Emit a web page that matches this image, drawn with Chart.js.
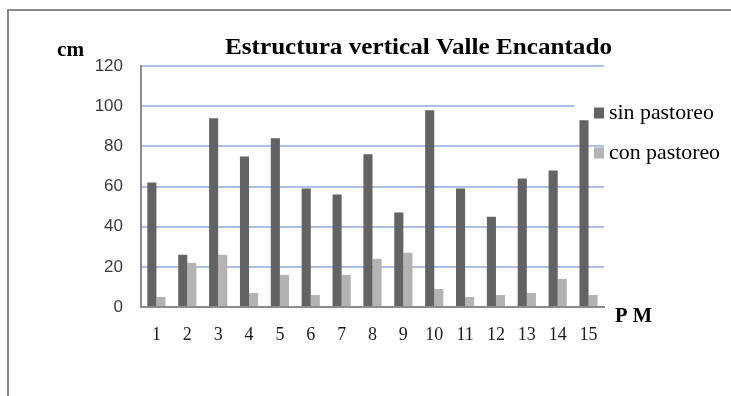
<!DOCTYPE html>
<html>
<head>
<meta charset="utf-8">
<script src="https://cdn.jsdelivr.net/npm/chart.js@4.4.1/dist/chart.umd.min.js"></script>
<style>
  html, body { margin: 0; padding: 0; background: #ffffff; }
  #wrap { width: 731px; height: 396px; }
</style>
</head>
<body>
<div id="wrap"><canvas id="c" width="731" height="396"></canvas></div>
<script>
// Plot points (PM) and canopy height in cm
const puntos = ['1','2','3','4','5','6','7','8','9','10','11','12','13','14','15'];
const sinPastoreo = [62, 26, 94, 75, 84, 59, 56, 76, 47, 98, 59, 45, 64, 68, 93];
const conPastoreo = [5, 22, 26, 7, 16, 6, 16, 24, 27, 9, 5, 6, 7, 14, 6];
const yTicks = [0, 20, 40, 60, 80, 100, 120];

const titulo = 'Estructura vertical Valle Encantado';
const unidad = 'cm';
const ejeX = 'P M';

// draw text squeezed/stretched horizontally so it spans a given width
function fitText(ctx, text, x, y, width, font, color) {
  ctx.save();
  ctx.font = font;
  ctx.fillStyle = color;
  ctx.textBaseline = 'alphabetic';
  ctx.textAlign = 'left';
  const w = ctx.measureText(text).width;
  const s = width / w;
  ctx.translate(x, y);
  ctx.scale(s, 1);
  ctx.fillText(text, 0, 0);
  ctx.restore();
  return s;
}

const decor = {
  id: 'decor',
  beforeDraw(chart) {
    const ctx = chart.ctx;
    ctx.save();
    ctx.fillStyle = '#ffffff';
    ctx.fillRect(0, 0, chart.width, chart.height);
    // outer frame
    ctx.strokeStyle = '#8a8a8a';
    ctx.lineWidth = 2;
    ctx.beginPath();
    ctx.moveTo(8, chart.height);
    ctx.lineTo(8, 10);
    ctx.lineTo(chart.width, 10);
    ctx.stroke();
    ctx.restore();
  },
  afterDraw(chart) {
    const ctx = chart.ctx;
    fitText(ctx, titulo, 225, 54, 387, 'bold 24px "Liberation Serif"', '#000000');
    fitText(ctx, unidad, 57, 56, 27, 'bold 20px "Liberation Serif"', '#000000');
    fitText(ctx, ejeX, 615, 322, 37, 'bold 20px "Liberation Serif"', '#000000');

    // legend
    ctx.save();
    ctx.fillStyle = '#ffffff';
    ctx.fillRect(574, 99, 157, 21);
    ctx.restore();
    const items = chart.data.datasets;
    const rows = [118.5, 158.5];
    let s = null;
    items.forEach((ds, i) => {
      const base = rows[i];
      ctx.save();
      ctx.fillStyle = ds.backgroundColor;
      ctx.fillRect(594, base - 11, 10, 11);
      ctx.restore();
      ctx.save();
      ctx.font = '21px "Liberation Serif"';
      ctx.fillStyle = '#000000';
      if (s === null) s = 105 / ctx.measureText(ds.label).width;
      ctx.translate(609, base);
      ctx.scale(s, 1);
      ctx.fillText(ds.label, 0, 0);
      ctx.restore();
    });
  }
};

new Chart(document.getElementById('c'), {
  type: 'bar',
  data: {
    labels: puntos,
    datasets: [
      { label: 'sin pastoreo', data: sinPastoreo, backgroundColor: '#636363', borderWidth: 0 },
      { label: 'con pastoreo', data: conPastoreo, backgroundColor: '#b3b3b3', borderWidth: 0 }
    ]
  },
  options: {
    responsive: false,
    animation: false,
    devicePixelRatio: 1,
    layout: { padding: { left: 0, right: 127, top: 66, bottom: 0 } },
    datasets: { bar: { categoryPercentage: 0.59, barPercentage: 1.0 } },
    plugins: {
      legend: { display: false },
      title: { display: false },
      tooltip: { enabled: false }
    },
    scales: {
      x: {
        grid: { display: false, drawTicks: false },
        border: { display: true, color: '#8c8c8c', width: 2 },
        ticks: {
          color: '#1a1a1a',
          font: { family: 'Liberation Serif', size: 18 },
          padding: 17,
          maxRotation: 0,
          autoSkip: false
        },
        afterFit(scale) { scale.height = 89; }
      },
      y: {
        min: 0,
        max: 120,
        afterBuildTicks(scale) { scale.ticks = yTicks.map(v => ({ value: v })); },
        grid: {
          drawTicks: false,
          lineWidth: 2,
          color: ctx => (ctx.tick && ctx.tick.value === 0) ? 'rgba(0,0,0,0)' : '#a9c0e8'
        },
        border: { display: true, color: '#8c8c8c', width: 2 },
        ticks: {
          color: '#3a3a3a',
          font: { family: 'Liberation Sans', size: 17 },
          padding: 18
        },
        afterFit(scale) { scale.width = 141; }
      }
    }
  },
  plugins: [decor]
});
</script>
</body>
</html>
